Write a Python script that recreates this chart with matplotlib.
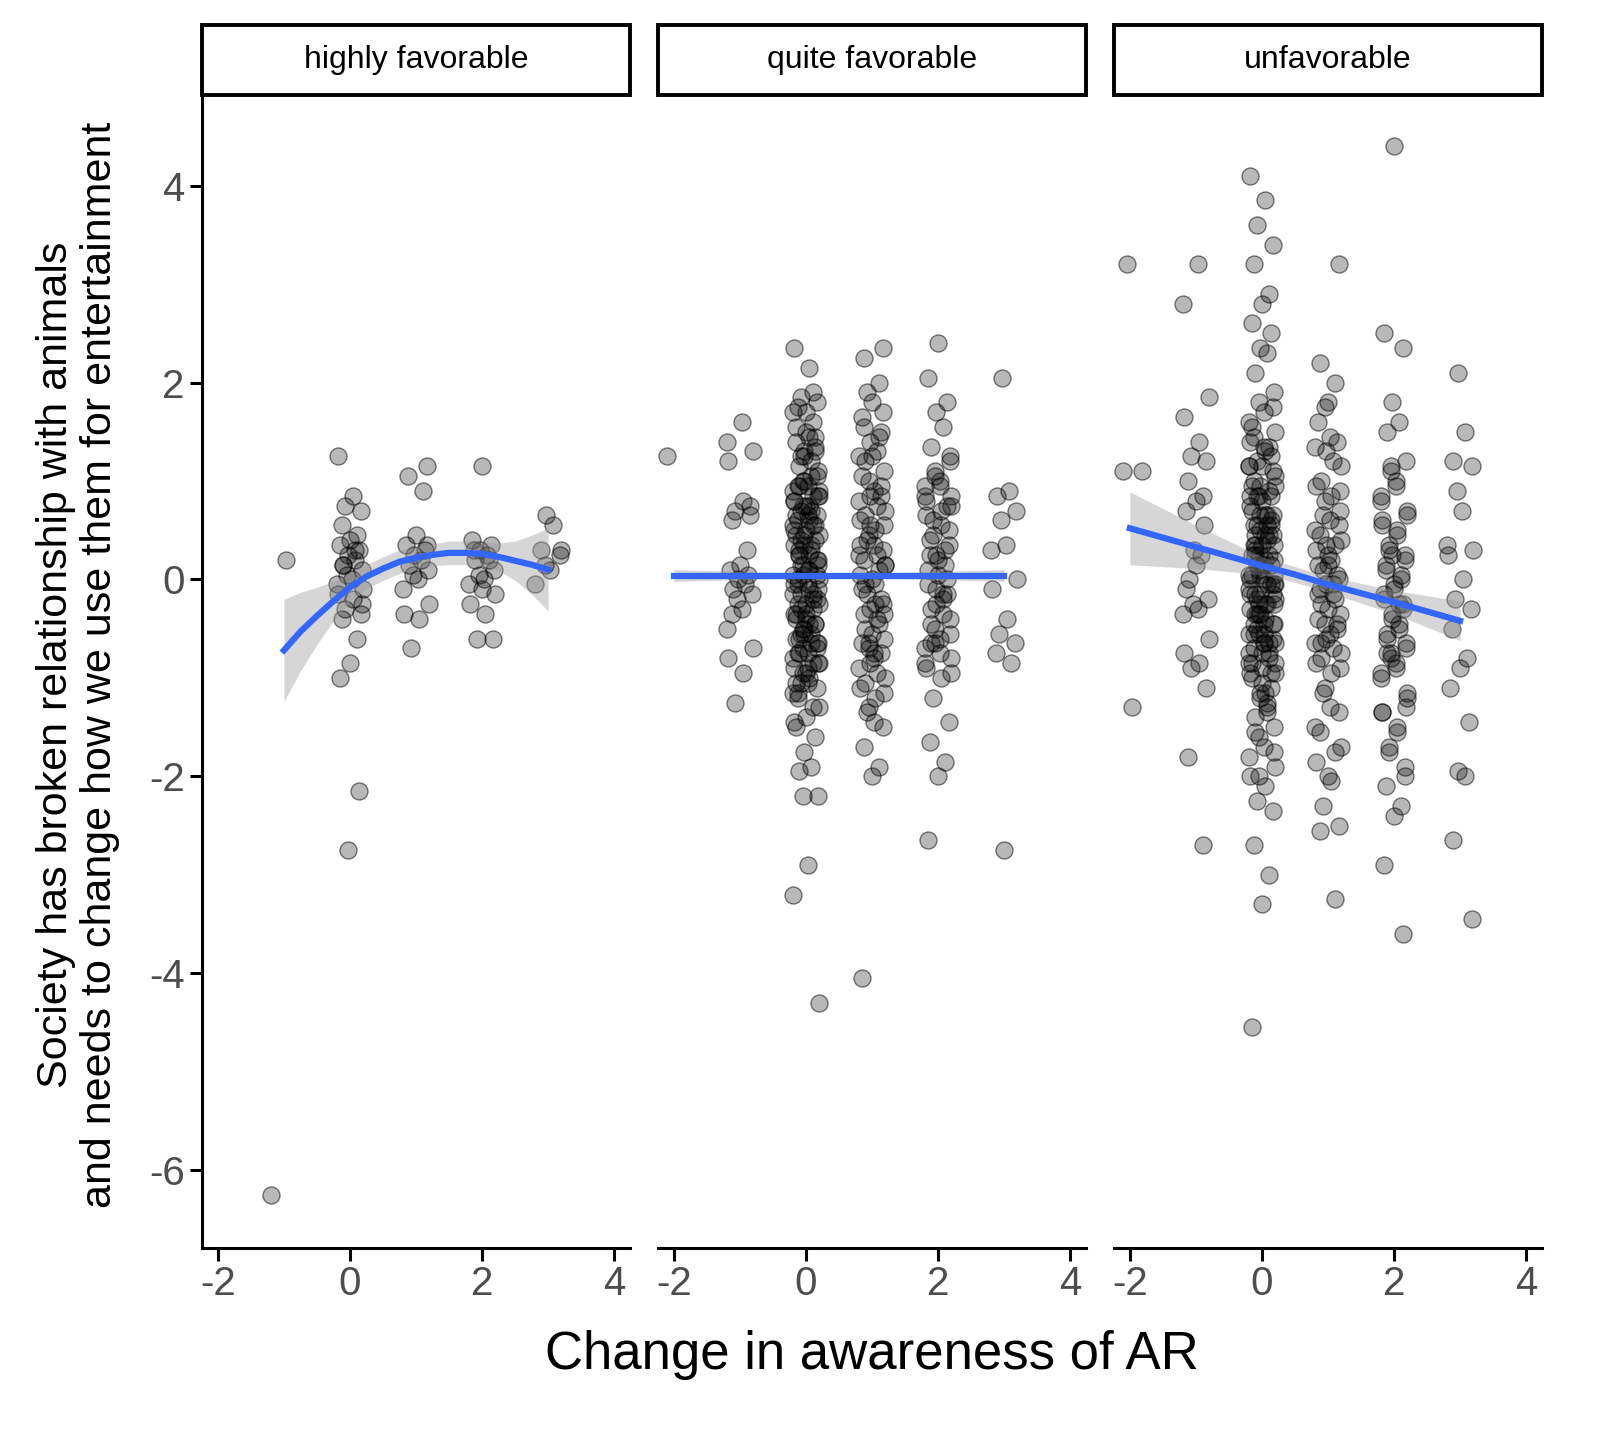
import numpy as np
import matplotlib
matplotlib.use("Agg")
import matplotlib.pyplot as plt
from matplotlib.patches import Rectangle

plt.rcParams["font.family"] = ["Liberation Sans", "DejaVu Sans"]
plt.rcParams["axes.unicode_minus"] = False

FACETS = ["highly favorable", "quite favorable", "unfavorable"]

# horizontal jitter offsets, cycled over points of each column
JITTER = [-0.18, 0.05, -0.07, 0.16, -0.12, 0.1, 0.0, -0.15, 0.13, -0.03, 0.08, -0.1, 0.18, -0.05, 0.03, -0.2, 0.2]

# y values per awareness level (-2..3), per facet
Y_HIGH = {
    -1: [0.2, -6.25],
    0: [1.25, 0.85, 0.75, 0.7, 0.55, 0.45, 0.4, 0.35, 0.3, 0.25, 0.2, 0.15, 0.1, 0.05, 0.0, -0.05,
        -0.1, -0.15, -0.2, -0.3, -0.35, -0.4, -0.6, -0.85, -1.0, -2.15, -2.75, 0.3, 0.15, -0.25],
    1: [1.15, 1.05, 0.9, 0.45, 0.35, 0.3, 0.25, 0.2, 0.15, 0.1, 0.05, 0.0, -0.1, -0.25, -0.35, -0.4, -0.7, 0.35],
    2: [1.15, 0.4, 0.35, 0.3, 0.25, 0.2, 0.1, 0.05, 0.0, -0.05, -0.15, -0.25, -0.35, -0.6, -0.6, 0.3, 0.2, -0.1],
    3: [0.65, 0.55, 0.3, 0.25, 0.15, 0.1, -0.05, 0.3],
}

Q_CORE = [1.9, 1.7, 1.55, 1.45, 1.25, 1.05, 0.95, 0.85, 0.75, 0.65, 0.55, 0.45, 0.35, 0.25, 0.15, 0.05,
          -0.05, -0.15, -0.25, -0.35, -0.45, -0.55, -0.65, -0.75, -0.85, -0.95, -1.05, -1.15, -1.3, -1.45]

Y_QUITE = {
    -2: [1.25],
    -1: [1.6, 1.4, 1.3, 1.2, 0.8, 0.7, 0.65, 0.6, 0.3, 0.15, 0.1, 0.05, 0.0, -0.05, -0.1, -0.15, -0.2,
         -0.3, -0.5, -0.7, -0.8, -0.95, -1.25, 0.75, -0.35],
    0: [2.35, 2.15, 1.85, 1.8, 1.75, 1.6, 1.5, 1.4, 1.35, 1.3, 1.2, 1.15, 1.1, 1.0, 0.95, 0.9, 0.85, 0.8,
        0.75, 0.7, 0.65, 0.6, 0.55, 0.5, 0.45, 0.4, 0.35, 0.3, 0.25, 0.2, 0.15, 0.1, 0.05, 0.0, -0.05,
        -0.1, -0.15, -0.2, -0.25, -0.3, -0.35, -0.4, -0.45, -0.5, -0.55, -0.6, -0.65, -0.7, -0.75, -0.8,
        -0.85, -0.9, -1.0, -1.05, -1.1, -1.2, -1.3, -1.4, -1.5, -1.6, -1.75, -1.9, -1.95, -2.2, -2.2,
        -2.9, -3.2, -4.3, 0.8, 0.6, 0.4, 0.2, 0.0, -0.2, -0.4, -0.6, 1.3, 1.0, 0.7, 0.3, -0.1, -0.5,
        -0.9, 1.7, 0.9, 0.5, 0.1, -0.3, -0.7, -1.15] + Q_CORE + Q_CORE[3:27],
    1: [2.35, 2.25, 2.0, 1.8, 1.65, 1.5, 1.4, 1.3, 1.2, 1.1, 1.0, 0.9, 0.8, 0.7, 0.6, 0.5, 0.4, 0.3, 0.2,
        0.1, 0.0, -0.1, -0.2, -0.3, -0.4, -0.5, -0.6, -0.7, -0.8, -0.9, -1.0, -1.1, -1.2, -1.35, -1.5,
        -1.7, -1.9, -2.0, -4.05, 0.85, 0.55, 0.25, -0.05, -0.35, -0.65, -0.75, 1.25, 0.15, 0.35, -0.25] + Q_CORE,
    2: [2.4, 2.05, 1.8, 1.7, 1.55, 1.35, 1.2, 1.1, 1.0, 0.95, 0.85, 0.8, 0.7, 0.6, 0.5, 0.4, 0.3, 0.2,
        0.1, 0.0, -0.1, -0.2, -0.3, -0.4, -0.5, -0.6, -0.7, -0.8, -0.9, -1.0, -1.2, -1.45, -1.65, -1.85,
        -2.0, -2.65, 0.75, 0.25, -0.15, -0.65] + Q_CORE[4:26],
    3: [2.05, 0.9, 0.85, 0.7, 0.6, 0.35, 0.3, 0.0, -0.1, -0.4, -0.55, -0.65, -0.75, -0.85, -2.75],
}

U_CORE = [1.75, 1.45, 1.35, 1.15, 0.95, 0.85, 0.65, 0.55, 0.45, 0.35, 0.25, 0.15, 0.05, -0.05, -0.15,
          -0.25, -0.35, -0.45, -0.55, -0.65, -0.75, -0.85, -0.95, -1.15, -1.35, -1.55, -1.75, -2.0]

Y_UNFAV = {
    -2: [1.1, 1.1, 3.2, -1.3],
    -1: [3.2, 2.8, 1.85, 1.65, 1.4, 1.25, 1.2, 1.0, 0.85, 0.8, 0.7, 0.55, 0.3, 0.25, 0.0, -0.2, -0.25,
         -0.3, -0.35, -0.6, -0.75, -0.85, -0.9, -1.1, -1.8, -2.7, 0.15, -0.1],
    0: [4.1, 3.85, 3.6, 3.4, 3.2, 2.9, 2.8, 2.6, 2.5, 2.35, 2.3, 2.1, 1.9, 1.8, 1.7, 1.6, 1.5, 1.4, 1.3,
        1.2, 1.1, 1.0, 0.9, 0.8, 0.7, 0.6, 0.5, 0.4, 0.3, 0.2, 0.1, 0.0, -0.1, -0.2, -0.3, -0.4, -0.5,
        -0.6, -0.7, -0.8, -0.9, -1.0, -1.1, -1.2, -1.3, -1.4, -1.5, -1.6, -1.7, -1.8, -1.9, -2.0, -2.1,
        -2.25, -2.35, -2.7, -3.0, -3.3, -4.55, 1.25, 0.95, 0.65, 0.35, 0.05, -0.25, -0.55, -0.85,
        1.05, 0.75, 0.45, 0.15, -0.15, -0.45, -0.75, -1.05, 1.55, 0.55, -0.35, -1.25, 0.25, -0.05,
        0.85, -0.65, 1.15, -0.95, 0.0, 0.2, -0.2] + U_CORE + U_CORE[2:24] + U_CORE[5:20],
    1: [3.2, 2.2, 2.0, 1.8, 1.6, 1.4, 1.3, 1.2, 1.0, 0.9, 0.8, 0.6, 0.5, 0.4, 0.3, 0.2, 0.1, 0.0, -0.1,
        -0.2, -0.3, -0.4, -0.5, -0.6, -0.7, -0.8, -0.9, -1.1, -1.3, -1.5, -1.7, -1.85, -2.05, -2.3,
        -2.5, -2.55, -3.25, 0.15, -0.15, -0.45, 0.35, -0.05, -0.65, 0.7] + U_CORE,
    2: [4.4, 2.5, 2.35, 1.8, 1.6, 1.5, 1.2, 1.1, 1.0, 0.8, 0.7, 0.6, 0.5, 0.3, 0.2, 0.1, 0.0, -0.1, -0.2,
        -0.3, -0.4, -0.5, -0.6, -0.7, -0.8, -0.9, -1.0, -1.2, -1.35, -1.5, -1.7, -1.9, -2.1, -2.3,
        -2.4, -2.9, -3.6, 0.25, -0.25, -0.75, -1.3] + U_CORE[3:],
    3: [2.1, 1.5, 1.2, 1.15, 0.9, 0.7, 0.35, 0.3, 0.25, 0.0, -0.2, -0.3, -0.5, -0.8, -0.9, -1.1, -1.45,
        -1.95, -2.0, -2.65, -3.45],
}

POINTS = [Y_HIGH, Y_QUITE, Y_UNFAV]

# smoother fits (x, fit, half-width of 95% band)
FIT_X = [
    [-1, -0.75, -0.5, -0.25, 0, 0.25, 0.5, 0.75, 1, 1.25, 1.5, 1.75, 2, 2.25, 2.5, 2.75, 3],
    [-2, -1, 0, 1, 2, 3],
    [-2, -1, 0, 0.5, 1, 2, 3],
]
FIT_Y = [
    [-0.72, -0.53, -0.37, -0.22, -0.08, 0.03, 0.11, 0.18, 0.22, 0.25, 0.27, 0.27, 0.26, 0.23, 0.19, 0.15, 0.1],
    [0.04, 0.04, 0.04, 0.04, 0.04, 0.04],
    [0.52, 0.33, 0.14, 0.05, -0.05, -0.23, -0.42],
]
FIT_SE = [
    [0.52, 0.4, 0.29, 0.2, 0.14, 0.12, 0.12, 0.12, 0.11, 0.11, 0.12, 0.12, 0.12, 0.14, 0.2, 0.3, 0.42],
    [0.06, 0.04, 0.03, 0.03, 0.04, 0.06],
    [0.37, 0.22, 0.09, 0.08, 0.08, 0.12, 0.2],
]

fig = plt.figure(figsize=(16, 14.4), dpi=100)
W, H = 1600, 1440
lefts = [202, 658, 1114]
pw = 428
top, bottom = 97, 1248

for i, name in enumerate(FACETS):
    ax = fig.add_axes([lefts[i] / W, 1 - bottom / H, pw / W, (bottom - top) / H])
    xs, ys = [], []
    for lvl, vals in POINTS[i].items():
        for k, v in enumerate(vals):
            xs.append(lvl + JITTER[(k + lvl * 3) % len(JITTER)])
            ys.append(v)
    ax.scatter(xs, ys, s=150, facecolor=(0, 0, 0, 0.28), edgecolor=(0, 0, 0, 0.5), linewidth=1, zorder=2)
    fx, fy, fs = np.array(FIT_X[i]), np.array(FIT_Y[i]), np.array(FIT_SE[i])
    ax.fill_between(fx, fy - fs, fy + fs, color="#999999", alpha=0.4, lw=0, zorder=3)
    ax.plot(fx, fy, color="#3366FF", lw=4.5, zorder=4)
    ax.set_xlim(-2.24, 4.24)
    ax.set_ylim(-6.79, 4.9)
    ax.set_xticks([-2, 0, 2, 4])
    ax.set_yticks([-6, -4, -2, 0, 2, 4])
    for s in ["top", "right"]:
        ax.spines[s].set_visible(False)
    for s in ["left", "bottom"]:
        ax.spines[s].set_linewidth(2.2)
    ax.tick_params(labelsize=29, labelcolor="#4D4D4D", width=2.2, length=9)
    if i > 0:
        ax.spines["left"].set_visible(False)
        ax.tick_params(axis="y", left=False, labelleft=False)
    # strip
    sax = fig.add_axes([lefts[i] / W, 1 - 95 / H, pw / W, 70 / H])
    sax.set_axis_off()
    sax.add_patch(Rectangle((0, 0), 1, 1, transform=sax.transAxes, facecolor="white",
                            edgecolor="black", lw=2.8, clip_on=False))
    sax.text(0.5, 0.5, name, ha="center", va="center", fontsize=23, transform=sax.transAxes)

fig.text(0.5 * (202 + 1542) / W, 1 - 1355 / H, "Change in awareness of AR", ha="center", va="center", fontsize=38)
fig.text(78 / W, 1 - 665 / H,
         "Society has broken relationship with animals\nand needs to change how we use them for entertainment",
         ha="center", va="center", rotation=90, fontsize=31, linespacing=1.12)

fig.savefig("out.png", dpi=100)
